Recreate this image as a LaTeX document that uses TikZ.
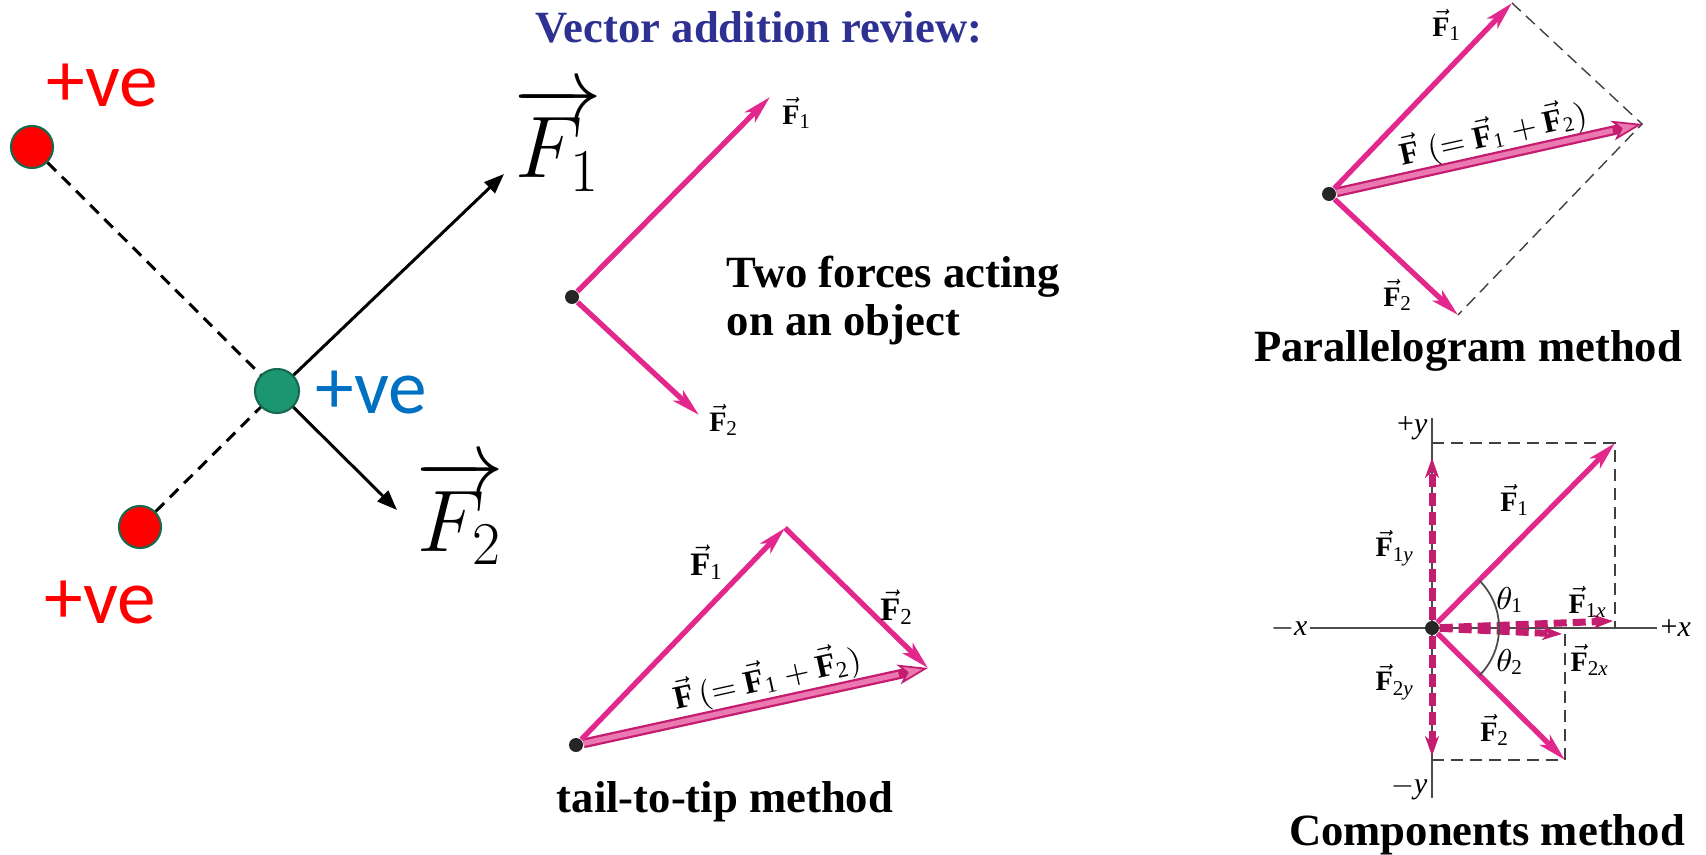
\documentclass[tikz,border=0pt]{standalone}
\usepackage{amsmath}
\usepackage{fontspec}
\setmainfont{Liberation Serif}
\newfontfamily\calibri{Carlito}
\usetikzlibrary{arrows.meta}

\definecolor{vecpink}{RGB}{226,40,140}
\definecolor{sumpink}{RGB}{236,120,178}
\definecolor{darkpink}{RGB}{196,28,110}
\definecolor{navy}{RGB}{46,49,146}
\definecolor{dotgreen}{RGB}{27,150,112}
\definecolor{rimgreen}{RGB}{22,105,78}
\definecolor{veblue}{RGB}{0,112,192}

\newcommand*{\Fv}{\vec{\textbf{F}}}

\begin{document}
\begin{tikzpicture}
[
	x=0.01cm, y=-0.01cm,
	redpt/.style={circle,draw=rimgreen,fill=red,line width=0.6pt,inner sep=0pt,minimum size=0.42cm},
	greenpt/.style={circle,draw=rimgreen,fill=dotgreen,line width=0.6pt,inner sep=0pt,minimum size=0.44cm},
	blackpt/.style={circle,fill=black!85,inner sep=0pt,minimum size=0.14cm},
	chargesign/.style={font=\calibri\fontsize{22}{26}\selectfont,inner sep=0pt},
	force/.style={-{Triangle[length=0.2cm,width=0.15cm]},line width=0.85pt},
	guide/.style={dash pattern=on 0.12cm off 0.08cm,line width=0.85pt},
	pinkvec/.style={vecpink,line width=1.5pt,-{Stealth[length=0.28cm,width=0.14cm,inset=0.07cm]}},
	sumvec/.style={darkpink,line width=2.8pt,-{Stealth[length=0.3cm,width=0.2cm,inset=0.08cm,line width=0.5pt,fill=sumpink]}},
	sumcore/.style={sumpink,line width=1.5pt,shorten >=0.3cm},
	compvec/.style={darkpink,line width=2pt,dash pattern=on 0.13cm off 0.06cm,-{Stealth[length=0.2cm,width=0.14cm]}},
	helper/.style={black!75,line width=0.4pt,dash pattern=on 0.12cm off 0.07cm},
	axisline/.style={black!70,line width=0.5pt},
	lbl/.style={font=\fontsize{8}{9}\selectfont,inner sep=0pt},
	heading/.style={font=\bfseries\fontsize{12.7}{14}\selectfont,inner sep=0pt}
]
	\useasboundingbox (0,0) rectangle (1706,855);

	% charges
	\node[redpt] (qtop) at (32,147) {};
	\node[greenpt] (obj) at (277,391) {};
	\node[redpt] (qbot) at (140,527) {};
	\draw[guide] (qtop) -- (obj);
	\draw[guide] (qbot) -- (obj);
	\node[chargesign,red,anchor=base west] (topsign) at (46,107) {+ve};
	\node[chargesign,veblue,anchor=base west] (objsign) at (315,413) {+ve};
	\node[chargesign,red,anchor=base west] (botsign) at (44,623) {+ve};

	% forces on the object
	\coordinate (f1end) at (504,174);
	\coordinate (f2end) at (397,510);
	\draw[force] (obj) -- (f1end);
	\draw[force] (obj) -- (f2end);
	\node[anchor=base,inner sep=0pt,font=\fontsize{23}{28}\selectfont] (f1name) at (558,178) {$\overrightarrow{F_1}$};
	\node[anchor=base,inner sep=0pt,font=\fontsize{23}{28}\selectfont] (f2name) at (460,551) {$\overrightarrow{F_2}$};

	% title
	\node[heading,navy,anchor=base] (title) at (759,43) {Vector addition review:};

	% two forces
	\node[blackpt] (oa) at (572,297) {};
	\coordinate (a1) at (770,97);
	\coordinate (a2) at (699,415);
	\draw[pinkvec] (oa) -- (a1);
	\draw[pinkvec] (oa) -- (a2);
	\node[lbl] (a1name) at (797,113) {$\Fv_{\textrm{1}}$};
	\node[lbl] (a2name) at (724,420) {$\Fv_{\textrm{2}}$};
	\node[heading,font=\bfseries\fontsize{12.7}{13.7}\selectfont,align=left,anchor=base west] (twoforces) at (726,336) {Two forces acting\\on an object};

	% tail-to-tip
	\node[blackpt] (ob) at (576,745) {};
	\coordinate (b1) at (785,528);
	\coordinate (b2) at (928,668);
	\draw[sumvec] (ob) -- (b2);
	\draw[sumcore] (ob) -- (b2);
	\draw[pinkvec] (ob) -- (b1);
	\draw[pinkvec] (b1) -- (b2);
	\node[lbl,font=\fontsize{9.3}{11}\selectfont] (b1name) at (707,562) {$\Fv_{\textrm{1}}$};
	\node[lbl,font=\fontsize{9.3}{11}\selectfont] (b2name) at (897,607) {$\Fv_{\textrm{2}}$};
	\node[lbl,font=\fontsize{9.3}{11}\selectfont,rotate=12.5] (bsum) at (767,678) {$\Fv\,(=\Fv_{\textrm{1}}+\Fv_{\textrm{2}})$};
	\node[heading,anchor=base] (tailtip) at (725,812) {tail-to-tip method};

	% parallelogram
	\node[blackpt] (oc) at (1329,194) {};
	\coordinate (c1) at (1512,3);
	\coordinate (c2) at (1458,315);
	\coordinate (cs) at (1642,124);
	\draw[helper] (c1) -- (cs) -- (c2);
	\draw[sumvec] (oc) -- (cs);
	\draw[sumcore] (oc) -- (cs);
	\draw[pinkvec] (oc) -- (c1);
	\draw[pinkvec] (oc) -- (c2);
	\node[lbl] (c1name) at (1447,25) {$\Fv_{\textrm{1}}$};
	\node[lbl] (c2name) at (1398,295) {$\Fv_{\textrm{2}}$};
	\node[lbl,font=\fontsize{9}{10}\selectfont,rotate=12.5] (csum) at (1493,134) {$\Fv\;(=\Fv_{\textrm{1}}+\Fv_{\textrm{2}})$};
	\node[heading,anchor=base] (para) at (1468,362) {Parallelogram method};

	% components
	\draw[axisline] (1310,628) -- (1657,628);
	\draw[axisline] (1432,418) -- (1432,798);
	\node[lbl,font=\fontsize{8.5}{10}\selectfont,anchor=east] (xneg) at (1308,628) {$-$\textit{x}};
	\node[lbl,font=\fontsize{8.5}{10}\selectfont,anchor=west] (xpos) at (1660,628) {+\textit{x}};
	\node[lbl,font=\fontsize{8.5}{10}\selectfont,anchor=base east] (ypos) at (1428,433) {+\textit{y}};
	\node[lbl,font=\fontsize{8.5}{10}\selectfont,anchor=base east] (yneg) at (1428,793) {$-$\textit{y}};
	\node[blackpt] (od) at (1432,628) {};
	\coordinate (d1) at (1615,443);
	\coordinate (d2) at (1565,760);
	\draw[helper] (od |- d1) -- (d1) -- (d1 |- od);
	\draw[helper] (od |- d2) -- (d2) -- (d2 |- od);
	\coordinate (d1x) at (1613,621);
	\coordinate (d2x) at (1562,634);
	\coordinate (d1y) at (1432,458);
	\coordinate (d2y) at (1432,756);
	\draw[compvec] (od) -- (d1y);
	\draw[compvec] (od) -- (d2y);
	\draw[compvec] (od) -- (d1x);
	\draw[compvec] (od) -- (d2x);
	\draw[pinkvec] (od) -- (d1);
	\draw[pinkvec] (od) -- (d2);
	\draw[axisline] ([shift={(45:0.67cm)}]od.center) arc[start angle=45,end angle=-45,radius=0.67cm];
	\node[lbl] (d1name) at (1515,500) {$\Fv_{\textrm{1}}$};
	\node[lbl] (d1yname) at (1395,548) {$\Fv_{\textrm{1}\textit{y}}$};
	\node[lbl,font=\fontsize{9}{10}\selectfont] (th1) at (1510,600) {$\theta_{\textrm{1}}$};
	\node[lbl] (d1xname) at (1588,602) {$\Fv_{\textrm{1}\textit{x}}$};
	\node[lbl,font=\fontsize{9}{10}\selectfont] (th2) at (1510,662) {$\theta_{\textrm{2}}$};
	\node[lbl] (d2xname) at (1590,660) {$\Fv_{\textrm{2}\textit{x}}$};
	\node[lbl] (d2yname) at (1395,682) {$\Fv_{\textrm{2}\textit{y}}$};
	\node[lbl] (d2name) at (1495,730) {$\Fv_{\textrm{2}}$};
	\node[heading,anchor=base] (comps) at (1487,845) {Components method};

\end{tikzpicture}
\end{document}
